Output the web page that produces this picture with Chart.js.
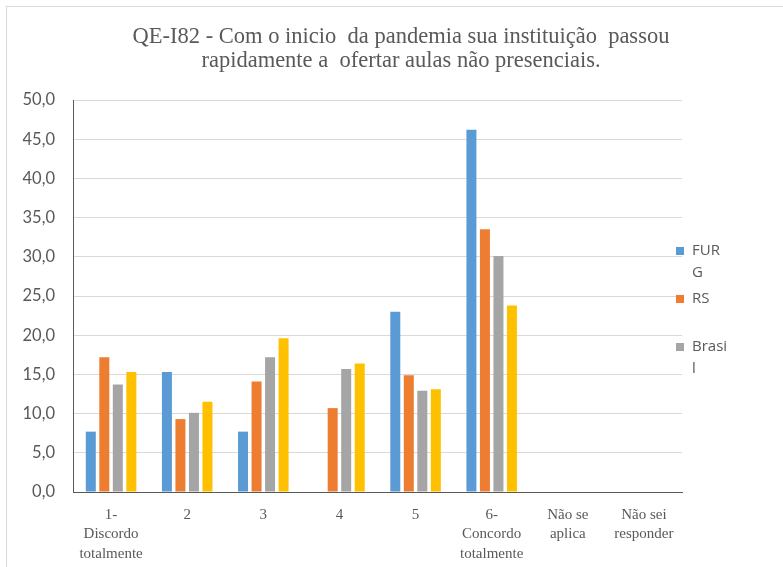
<!DOCTYPE html>
<html>
<head>
<meta charset="utf-8">
<script src="https://cdn.jsdelivr.net/npm/chart.js@4.4.1/dist/chart.umd.min.js"></script>
<style>
  html, body { margin: 0; padding: 0; background: #ffffff; }
  #wrap { position: relative; width: 783px; height: 567px; }
</style>
</head>
<body>
<div id="wrap"><canvas id="c" width="783" height="567"></canvas></div>
<script>
const titleLines = ["QE-I82 - Com o inicio  da pandemia sua instituição  passou", "rapidamente a  ofertar aulas não presenciais."];
const categories = [["1-", "Discordo", "totalmente"], "2", "3", "4", "5", ["6-", "Concordo", "totalmente"], ["Não se", "aplica"], ["Não sei", "responder"]];
const seriesNames = ["FURG", "RS", "Brasil", ""];
const legendLines = [["FUR", "G"], ["RS"], ["Brasi", "l"]];
const furg   = [7.7, 15.3, 7.7, 0, 23.0, 46.2, 0, 0];
const rs     = [17.2, 9.3, 14.1, 10.7, 14.9, 33.5, 0, 0];
const brasil = [13.7, 10.1, 17.2, 15.7, 12.9, 30.1, 0, 0];
const regiao = [15.3, 11.5, 19.6, 16.4, 13.1, 23.8, 0, 0];
const colors = ["#5B9BD5", "#ED7D31", "#A5A5A5", "#FFC000"];
const yTicks = [0, 5, 10, 15, 20, 25, 30, 35, 40, 45, 50];

const decor = {
  id: 'decor',
  beforeDraw(chart) {
    const ctx = chart.ctx;
    ctx.save();
    ctx.fillStyle = '#ffffff';
    ctx.fillRect(0, 0, chart.width, chart.height);
    ctx.strokeStyle = '#d9d9d9';
    ctx.lineWidth = 1;
    ctx.strokeRect(6.5, 6.5, 900, 700);
    ctx.restore();
  },
  afterDraw(chart) {
    const ctx = chart.ctx;
    ctx.save();
    ctx.fillStyle = '#595959';
    ctx.font = '22.5px "Liberation Serif", serif';
    ctx.textAlign = 'center';
    ctx.textBaseline = 'middle';
    ctx.fillText(titleLines[0], 401, 37);
    ctx.fillText(titleLines[1], 401, 61);
    // legend
    const ys = [251, 299, 347];
    ctx.font = '15px "Open Sans", sans-serif';
    ctx.textAlign = 'left';
    legendLines.forEach((lines, i) => {
      ctx.fillStyle = colors[i];
      ctx.fillRect(676, ys[i] - 4, 8, 8);
      ctx.fillStyle = '#595959';
      lines.forEach((t, j) => ctx.fillText(t, 692, ys[i] + j * 22));
    });
    ctx.restore();
  }
};

const datasets = [furg, rs, brasil, regiao].map((d, i) => ({
  label: seriesNames[i],
  data: d,
  backgroundColor: colors[i],
  borderColor: '#ffffff',
  borderWidth: 0,
  barPercentage: 0.74,
  categoryPercentage: 0.71
}));

new Chart(document.getElementById('c'), {
  type: 'bar',
  data: { labels: categories, datasets },
  options: {
    responsive: false,
    animation: false,
    layout: { padding: { top: 100, right: 101, left: 0, bottom: 0 } },
    plugins: { legend: { display: false }, title: { display: false }, tooltip: { enabled: false } },
    scales: {
      x: {
        grid: { display: false, drawTicks: false },
        border: { display: true, color: '#595959', width: 1 },
        ticks: {
          color: '#595959',
          font: { family: '"Liberation Serif", serif', size: 15, lineHeight: 1.3 },
          padding: 13,
          maxRotation: 0,
          autoSkip: false
        },
        afterFit(scale) { scale.height = 75; }
      },
      y: {
        min: 0, max: 50,
        afterBuildTicks(scale) { scale.ticks = yTicks.map(v => ({ value: v })); },
        grid: { color: '#d9d9d9', lineWidth: 1, drawTicks: false },
        border: { display: true, color: '#595959', width: 1 },
        ticks: {
          color: '#595959',
          font: { family: 'Lato, sans-serif', size: 16.5 },
          padding: 18,
          callback: v => v.toFixed(1).replace('.', ',')
        },
        afterFit(scale) { scale.width = 73; }
      }
    }
  },
  plugins: [decor]
});
</script>
</body>
</html>
